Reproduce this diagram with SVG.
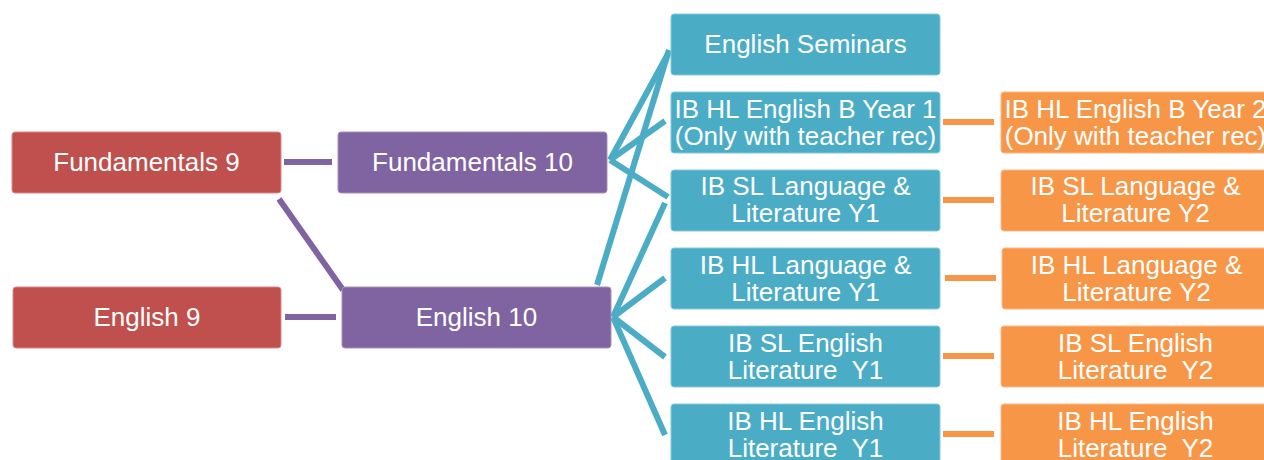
<svg xmlns="http://www.w3.org/2000/svg" width="1264" height="460" viewBox="0 0 1264 460">
<style>
.red{fill:#C0504D;stroke:#D88A88;stroke-width:1}
.pur{fill:#8064A2;stroke:#A690C0;stroke-width:1}
.teal{fill:#4BACC6;stroke:#86C9DA;stroke-width:1}
.org{fill:#F79646;stroke:#FAB98A;stroke-width:1}
text{font-family:"Liberation Sans",Arial,sans-serif;font-size:26px;fill:#FFFFFF;text-anchor:middle}
.cp{stroke:#8064A2;stroke-width:6;fill:none}
.ct{stroke:#4BACC6;stroke-width:6;fill:none}
.co{stroke:#F79646;stroke-width:6;fill:none}
</style>
<rect width="1264" height="460" fill="#FFFFFF"/>
<g id="connectors">
<line class="cp" x1="284" y1="162" x2="332" y2="162"/>
<line class="cp" x1="285" y1="317" x2="336" y2="317"/>
<line class="cp" x1="279" y1="199" x2="343" y2="290"/>
<line class="ct" x1="610" y1="160" x2="669" y2="52"/>
<line class="ct" x1="610" y1="160" x2="665" y2="121"/>
<line class="ct" x1="610" y1="160" x2="668" y2="197"/>
<line class="ct" x1="597" y1="285" x2="669" y2="50"/>
<line class="ct" x1="613" y1="317" x2="665" y2="203"/>
<line class="ct" x1="613" y1="317" x2="665" y2="278"/>
<line class="ct" x1="613" y1="317" x2="665" y2="357"/>
<line class="ct" x1="613" y1="317" x2="665" y2="435"/>
<line class="co" x1="943" y1="122" x2="994" y2="122"/>
<line class="co" x1="943" y1="200" x2="994" y2="200"/>
<line class="co" x1="945" y1="278" x2="996" y2="278"/>
<line class="co" x1="943" y1="356" x2="994" y2="356"/>
<line class="co" x1="943" y1="434" x2="994" y2="434"/>
</g>
<g id="fundamentals9"><rect class="red" x="12" y="132" width="269" height="61" rx="3"/><text x="146.5" y="171">Fundamentals 9</text></g>
<g id="english9"><rect class="red" x="13" y="287" width="268" height="61" rx="3"/><text x="147" y="326">English 9</text></g>
<g id="fundamentals10"><rect class="pur" x="338" y="132" width="269" height="61" rx="3"/><text x="472.5" y="171">Fundamentals 10</text></g>
<g id="english10"><rect class="pur" x="342" y="287" width="269" height="61" rx="3"/><text x="476.5" y="326">English 10</text></g>
<g id="englishSeminars"><rect class="teal" x="671" y="14" width="269" height="61" rx="3"/><text x="805.5" y="53">English Seminars</text></g>
<g id="ibHLEngBY1"><rect class="teal" x="671" y="92" width="269" height="61" rx="3"/><text x="805.5" y="117.5">IB HL English B Year 1</text><text x="805.5" y="144.5">(Only with teacher rec)</text></g>
<g id="ibSLLangY1"><rect class="teal" x="671" y="170" width="269" height="61" rx="3"/><text x="805.5" y="195">IB SL Language &amp;</text><text x="805.5" y="222">Literature Y1</text></g>
<g id="ibHLLangY1"><rect class="teal" x="671" y="248" width="269" height="61" rx="3"/><text x="805.5" y="273.5">IB HL Language &amp;</text><text x="805.5" y="300.5">Literature Y1</text></g>
<g id="ibSLLitY1"><rect class="teal" x="671" y="326" width="269" height="61" rx="3"/><text x="805.5" y="351.5">IB SL English</text><text x="805.5" y="378.5" xml:space="preserve">Literature  Y1</text></g>
<g id="ibHLLitY1"><rect class="teal" x="671" y="404" width="269" height="61" rx="3"/><text x="805.5" y="429.5">IB HL English</text><text x="805.5" y="456.5" xml:space="preserve">Literature  Y1</text></g>
<g id="ibHLEngBY2"><rect class="org" x="1001" y="92" width="269" height="61" rx="3"/><text x="1135.5" y="117.5">IB HL English B Year 2</text><text x="1135.5" y="144.5">(Only with teacher rec)</text></g>
<g id="ibSLLangY2"><rect class="org" x="1001" y="170" width="269" height="61" rx="3"/><text x="1135.5" y="195">IB SL Language &amp;</text><text x="1135.5" y="222">Literature Y2</text></g>
<g id="ibHLLangY2"><rect class="org" x="1002" y="248" width="269" height="61" rx="3"/><text x="1136.5" y="273.5">IB HL Language &amp;</text><text x="1136.5" y="300.5">Literature Y2</text></g>
<g id="ibSLLitY2"><rect class="org" x="1001" y="326" width="269" height="61" rx="3"/><text x="1135.5" y="351.5">IB SL English</text><text x="1135.5" y="378.5" xml:space="preserve">Literature  Y2</text></g>
<g id="ibHLLitY2"><rect class="org" x="1001" y="404" width="269" height="61" rx="3"/><text x="1135.5" y="429.5">IB HL English</text><text x="1135.5" y="456.5" xml:space="preserve">Literature  Y2</text></g>
</svg>
